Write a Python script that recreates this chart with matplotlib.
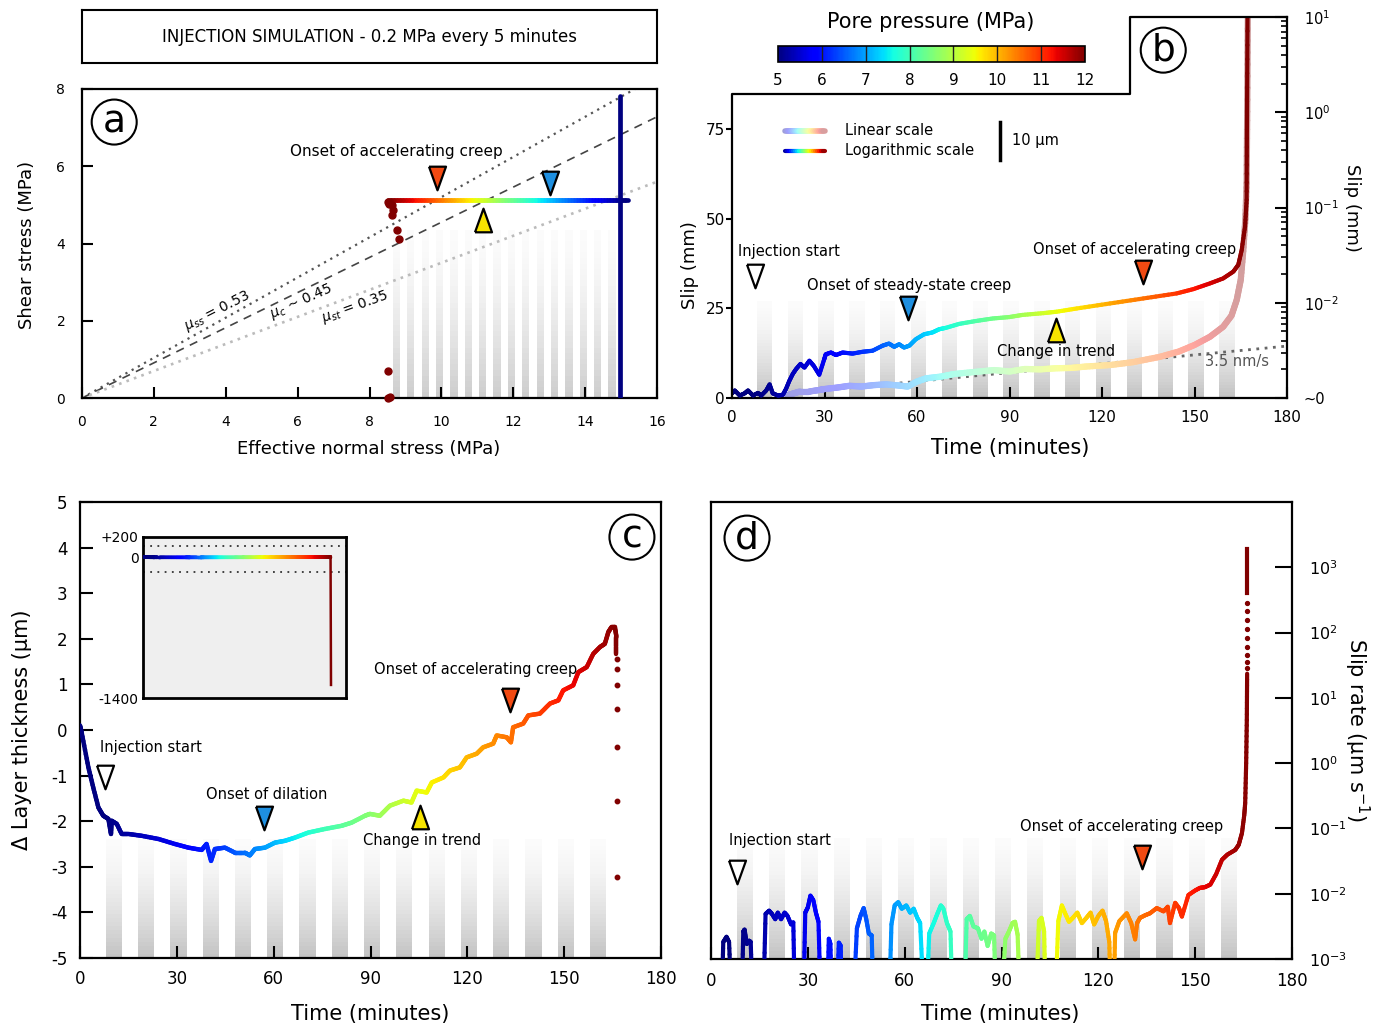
import numpy as np
import matplotlib
matplotlib.use('Agg')
import matplotlib.pyplot as plt
import matplotlib.colors as mcolors
from matplotlib.collections import LineCollection, PatchCollection
from matplotlib.patches import Rectangle
from matplotlib.lines import Line2D
from matplotlib.ticker import FixedLocator, FixedFormatter, NullLocator, LogLocator

plt.rcParams['font.family'] = ['DejaVu Sans']
plt.rcParams['mathtext.fontset'] = 'dejavusans'
plt.rcParams['axes.unicode_minus'] = False

W, H = 1384, 1029

# ---------------- data ----------------
# colour key: pore pressure (MPa) against time (min), read from the curve colours
pp_key_t = [0, 8, 30, 45, 60, 72, 90, 105, 133, 150, 167]
pp_key_v = [5, 5, 5.7, 6.3, 7.1, 7.8, 8.6, 9.4, 10.5, 11.2, 12]
# same key against effective normal stress (panel a)
pp_key_sn = [8.52, 15.0]
pp_key_sn_v = [12, 5]

# pressure steps (grey bands), start of each 5 min step
band_t = [8, 18, 28, 38, 48, 58, 68, 78, 88, 98, 108, 118, 128, 138, 148, 158]
band_sn = [8.65, 9.05, 9.45, 9.85, 10.25, 10.65, 11.05, 11.45, 11.85, 12.25,
           12.65, 13.05, 13.45, 13.85, 14.25, 14.65]

# panel a
a_mu_slope = [0.52, 0.455, 0.35]
a_line_sn = [15.2, 8.52]
a_line_tau = [5.13, 5.13]
a_load_sn = [14.97, 14.97]
a_load_tau = [0.0, 7.81]
a_dots_sn = [8.52, 8.55, 8.62, 8.65, 8.62, 8.77, 8.83, 8.52, 8.57, 8.52]
a_dots_tau = [5.08, 5.02, 5.00, 4.87, 4.74, 4.35, 4.11, 0.71, 0.03, 0.0]

# panel b: slip, log-scale curve (plotted in left-axis units)
b_log_t = [0, 0.9, 2.5, 4.1, 5.2, 6.8, 8.4, 9.5, 11.1, 12.2, 13.2, 14.9, 16.5, 17.5,
           18.6, 19.7, 20.8, 22.2, 23.5, 25.1, 26.5, 28.3, 29.9, 30.4, 32.1, 33.7,
           35.9, 39.1, 42.3, 45.6, 48.8, 50.9, 52.6, 54.2, 55.8, 57.5, 59.6, 62.3,
           65.0, 67.2, 69.4, 73.7, 79.1, 84.5, 89.9, 94.2, 101, 105.3, 111.8, 122.6,
           133.4, 144.2, 149.6, 155, 159.3, 162.6, 164.2, 165.3, 166.4, 166.9, 167.0, 167.2]
b_log_y = [1.3, 2.1, 0.7, 1.3, 2.1, 0.7, 1.4, 0.7, 2.1, 3.8, 1.3, 0.7, 0.9, 2.5,
           4.8, 6.7, 8.1, 9.5, 8.5, 10.4, 9.0, 6.5, 10.8, 12.2, 12.7, 12.0,
           12.7, 12.4, 12.9, 13.2, 14.6, 15.2, 14.3, 15.0, 14.1, 14.6, 16.4, 17.8,
           18.3, 19.2, 19.6, 20.7, 21.5, 22.2, 22.6, 23.2, 23.7, 24.1, 25.0, 26.4,
           27.8, 29.2, 30.4, 32.0, 33.4, 35.3, 37.2, 41.3, 47.9, 55.3, 75, 106.4]
# panel b: slip, linear-scale curve
b_lin_t = [18, 20, 22, 25, 28, 30, 34, 38, 42, 46, 50, 54, 57, 60, 63, 68, 72, 79, 85, 90,
           95, 100, 105, 110, 115, 122.6, 130, 138.8, 145, 150, 155, 159.3, 162, 163.7,
           165, 165.8, 166.5, 166.9, 167.1, 167.3]
b_lin_y = [0.8, 1.3, 1.8, 1.8, 2.2, 2.5, 2.9, 3.4, 3.2, 3.6, 3.8, 3.5, 3.2, 4.6, 5.5, 6.0,
           6.7, 7.3, 7.8, 7.4, 8.1, 8.0, 8.3, 8.4, 8.8, 9.2, 10.0, 11.5, 13.0, 14.8, 17.1,
           19.9, 23.0, 27.4, 33.0, 41, 50, 60, 80, 106.4]
b_rate_t = [19.4, 180]
b_rate_y = [1.3, 14.5]

# panel c: change in layer thickness (um)
c_t = [0, 0.5, 2.6, 4.1, 5.7, 7.2, 8.8, 9.6, 9.8, 11.4, 12.9, 15.0, 19.1, 24.3, 29.4,
       33.6, 37.7, 39.2, 40.6, 41.8, 44.9, 48.0, 51.1, 52.6, 54.2, 57.3, 60.4, 63.5,
       66.6, 70.7, 75.9, 81.1, 84.2, 88.3, 89.8, 92.9, 96.0, 100.2, 102.7, 104.3, 107.4,
       109.0, 112.6, 114.6, 117.7, 119.8, 122.9, 124.9, 128.0, 129.1, 132.2, 133.5,
       134.2, 137.3, 138.9, 142.5, 145.6, 148.2, 149.7, 152.8, 154.4, 157.0, 159.0,
       161.1, 162.6, 163.7, 164.7, 165.7, 166.2, 166.2]
c_v = [0.1, -0.05, -0.82, -1.26, -1.70, -1.88, -1.95, -2.28, -1.99, -2.06, -2.28, -2.28,
       -2.32, -2.39, -2.50, -2.58, -2.63, -2.50, -2.87, -2.61, -2.58, -2.69, -2.69, -2.75,
       -2.61, -2.58, -2.47, -2.43, -2.36, -2.25, -2.17, -2.10, -2.03, -1.88, -1.84, -1.88,
       -1.66, -1.55, -1.59, -1.33, -1.37, -1.15, -1.04, -0.89, -0.82, -0.60, -0.52, -0.38,
       -0.30, -0.12, -0.16, -0.27, 0.06, 0.14, 0.32, 0.36, 0.58, 0.65, 0.87, 0.98, 1.27,
       1.38, 1.67, 1.82, 1.89, 2.15, 2.26, 2.26, 2.04, 1.67]
c_drop_v = [1.56, 1.33, 0.98, 0.45, -0.38, -1.55, -3.22]
c_drop_t = 166.3
inset_drop_t = [166.3, 166.7]
inset_drop_v = [0, -1270]
inset_ref = [110, -150]

# panel d: slip rate, log10(um/s); -3.5 = below the axis floor
d_t = [3.4, 3.8, 4.8, 5.6, 6.2,
       9.6, 10.0, 10.4, 11.1, 11.8, 12.3, 12.8,
       16.3, 16.9, 18.0, 18.9, 19.9, 20.7, 21.7, 22.8, 23.7, 24.8, 25.5, 25.9,
       28.7, 29.2, 30.0, 30.8, 31.7, 32.5, 33.3, 33.9,
       36.1, 36.5, 37.0, 37.3,
       39.1, 39.6, 40.2, 40.4,
       44.3, 45.2, 46.3, 47.3, 48.1, 48.9, 49.8, 50.2,
       55.3, 55.9, 56.9, 58.0, 59.1, 60.5, 61.7, 62.8, 63.9, 64.8, 65.8,
       66.9, 67.6, 69.0, 70.1, 71.2, 72.0, 73.1, 74.2, 74.7,
       78.6, 79.2, 80.2, 81.3, 82.7, 83.8, 84.7, 85.7, 86.8, 87.7, 88.2,
       90.2, 91.2, 92.3, 93.4, 94.2, 95.0, 95.6,
       100.8, 101.6, 102.4, 103.2, 103.6,
       106.8, 107.6, 108.7, 109.8, 110.9, 112.1, 113.5, 114.9, 116.3, 117.6, 118.7,
       120.0, 121.3, 122.4, 123.4, 123.8,
       124.8, 125.2, 126.5, 128.8, 130.2, 131.4, 132.0, 132.9, 134.5, 136.0, 138.1,
       140.2, 141.5, 142.2, 143.8, 145.0, 145.9, 147.9, 150.0, 151.5, 153.0, 154.7,
       156.5, 158.3, 160.0, 162.4, 163.5, 164.5, 165.2, 165.5, 165.8, 166.0, 166.1]
d_log = [-3.5, -2.74, -2.66, -2.74, -3.5,
         -3.5, -2.58, -2.55, -2.77, -2.72, -2.74, -3.5,
         -3.5, -2.31, -2.26, -2.31, -2.39, -2.29, -2.39, -2.29, -2.34, -2.47, -2.44, -3.5,
         -3.5, -2.29, -2.21, -2.03, -2.10, -2.29, -2.43, -3.5,
         -3.5, -2.69, -2.77, -3.5,
         -3.5, -2.75, -2.80, -3.5,
         -3.5, -2.53, -2.34, -2.22, -2.39, -2.61, -2.64, -3.5,
         -3.5, -2.47, -2.18, -2.13, -2.23, -2.18, -2.29, -2.23, -2.37, -2.45, -3.5,
         -3.5, -2.61, -2.45, -2.31, -2.18, -2.23, -2.45, -2.58, -3.5,
         -3.5, -2.39, -2.34, -2.50, -2.53, -2.69, -2.58, -2.80, -2.61, -2.64, -3.5,
         -3.5, -2.69, -2.58, -2.45, -2.43, -2.63, -3.5,
         -3.5, -2.42, -2.37, -2.58, -3.5,
         -3.5, -2.42, -2.18, -2.31, -2.43, -2.37, -2.29, -2.45, -2.37, -2.29, -2.47,
         -2.34, -2.26, -2.42, -2.74, -3.5,
         -3.5, -2.60, -2.42, -2.30, -2.45, -2.70, -2.45, -2.37, -2.33, -2.30, -2.22,
         -2.27, -2.20, -2.45, -2.14, -2.22, -2.35, -2.02, -1.95, -1.91, -1.90, -1.86,
         -1.70, -1.48, -1.40, -1.33, -1.25, -1.07, -0.80, -0.61, 0.0, 0.66, 1.37]
d_dot_t = 166.15
d_dot_log = [1.45, 1.55, 1.65, 1.78, 1.92, 2.06, 2.2, 2.33, 2.45]
d_top_t = [166.2, 166.2]
d_top_log = [2.6, 3.28]

# ---------------- helpers ----------------
cmap = plt.get_cmap('jet')
norm = mcolors.Normalize(5, 12)
DARKRED = cmap(1.0)
ORANGE = '#f24a12'
BLUE = '#1e8fe0'
YELLOW = '#f7e400'
ANN = 10.5


def px_axes(fig, x0, y0, x1, y1, **kw):
    return fig.add_axes([x0 / W, 1 - y1 / H, (x1 - x0) / W, (y1 - y0) / H], **kw)


def ftext(fig, x, y, s, **kw):
    kw.setdefault('ha', 'center')
    kw.setdefault('va', 'center')
    fig.text(x / W, 1 - y / H, s, **kw)


def colored_line(ax, x, y, kx, kv, lw, pale=0.0, sub=8, logy=False, z=3):
    segs, cols = [], []
    for i in range(len(x) - 1):
        xs = np.linspace(x[i], x[i + 1], sub + 1)
        if logy:
            ys = np.logspace(np.log10(y[i]), np.log10(y[i + 1]), sub + 1)
        else:
            ys = np.linspace(y[i], y[i + 1], sub + 1)
        for j in range(sub):
            segs.append([(xs[j], ys[j]), (xs[j + 1], ys[j + 1])])
            c = np.array(cmap(norm(np.interp(0.5 * (xs[j] + xs[j + 1]), kx, kv)))[:3])
            cols.append(c * (1 - pale) + pale)
    lc = LineCollection(segs, colors=cols, linewidths=lw, zorder=z, capstyle='round')
    ax.add_collection(lc)


def bands(ax, starts, width, top, lo=0.76, hi=0.985, n=30):
    rects, cols = [], []
    for s in starts:
        for k in range(n):
            f0 = top * k / n
            g = hi - (hi - lo) * (1 - (k + 0.5) / n) ** 1.6
            rects.append(Rectangle((s, f0), width, top / n))
            cols.append((g, g, g))
    pc = PatchCollection(rects, facecolors=cols, edgecolors='none', zorder=0,
                         transform=ax.get_xaxis_transform())
    ax.add_collection(pc)


def tri(ax, x, y, kind, color, size=17):
    if kind == 'down':
        verts = [(-0.72, 1), (0.72, 1), (0, -1), (-0.72, 1)]
    else:
        verts = [(-0.72, -1), (0.72, -1), (0, 1), (-0.72, -1)]
    ax.plot([x], [y], marker=verts, ms=size, mfc=color, mec='black', mew=1.6,
            zorder=6, clip_on=False)


def letter(ax, x, y, s):
    ax.text(x, y, s, transform=ax.transAxes, fontsize=27, ha='center', va='center',
            zorder=8, bbox=dict(boxstyle='circle,pad=0.12', fc='white', ec='black', lw=1.5))


def style_spines(ax, lw=1.6):
    for sp in ax.spines.values():
        sp.set_linewidth(lw)


fig = plt.figure(figsize=(W / 100, H / 100), dpi=100)

# ---------------- title box ----------------
tb = px_axes(fig, 82, 10, 657, 63)
tb.set_xticks([])
tb.set_yticks([])
style_spines(tb, 1.5)
tb.text(0.5, 0.5, 'INJECTION SIMULATION - 0.2 MPa every 5 minutes', ha='center',
        va='center', fontsize=12, transform=tb.transAxes)

# ---------------- panel a ----------------
ax = px_axes(fig, 82, 89, 657, 398)
ax.set_xlim(0, 16)
ax.set_ylim(0, 8)
bands(ax, band_sn, 0.2, 4.35 / 8, lo=0.80, hi=0.985)
styles = [dict(color='#555555', lw=1.6, ls=(0, (1, 2.2))),
          dict(color='#444444', lw=1.2, ls=(0, (5, 4))),
          dict(color='#bbbbbb', lw=1.9, ls=(0, (1, 2)))]
for m, st in zip(a_mu_slope, styles):
    ax.plot([0, 16], [0, 16 * m], zorder=1, **st)
ax.text(3.75, 2.25, r'$\mu_{ss}$ = 0.53', rotation=27, fontsize=10, ha='center', va='center')
ax.text(6.1, 2.5, r'$\mu_{c}$ ~ 0.45', rotation=24, fontsize=10, ha='center', va='center')
ax.text(7.6, 2.35, r'$\mu_{st}$ = 0.35', rotation=20, fontsize=10, ha='center', va='center')
ax.plot(a_load_sn, a_load_tau, color=cmap(0.0), lw=3.4, zorder=3, solid_capstyle='round')
colored_line(ax, a_line_sn, a_line_tau, pp_key_sn, pp_key_sn_v, lw=3.4, sub=80, z=4)
ax.plot(a_dots_sn, a_dots_tau, 'o', color=DARKRED, ms=5, zorder=4, clip_on=False)
tri(ax, 9.87, 5.69, 'down', ORANGE)
tri(ax, 13.02, 5.56, 'down', BLUE)
tri(ax, 11.15, 4.61, 'up', YELLOW)
ax.text(8.76, 6.37, 'Onset of accelerating creep', fontsize=11, ha='center', va='center')
ax.set_xticks(range(0, 17, 2))
ax.set_yticks(range(0, 9, 2))
ax.tick_params(direction='in', length=8, width=1.5, labelsize=10, pad=12)
style_spines(ax)
letter(ax, 0.056, 0.893, 'a')
ftext(fig, 27, 245, 'Shear stress (MPa)', rotation=90, fontsize=13)
ftext(fig, 369, 449, 'Effective normal stress (MPa)', fontsize=13)

# ---------------- panel b ----------------
ax = px_axes(fig, 732, 17, 1287, 398)
ax.set_xlim(0, 180)
ax.set_ylim(0, 106.4)
for s in ['top', 'left', 'right']:
    ax.spines[s].set_visible(False)
ax.spines['bottom'].set_linewidth(1.6)
ax.add_line(Line2D([0, 0, 0.717, 0.717, 1], [0, 0.798, 0.798, 1, 1], color='black',
                   lw=1.6, transform=ax.transAxes, clip_on=False, zorder=7))
bands(ax, band_t, 5, 27 / 106.4)
ax.plot(b_rate_t, b_rate_y, color='#666666', lw=2, ls=(0, (1, 2)), zorder=2)
colored_line(ax, b_lin_t, b_lin_y, pp_key_t, pp_key_v, lw=4.5, pale=0.62, z=2)
colored_line(ax, b_log_t, b_log_y, pp_key_t, pp_key_v, lw=3.0, z=3)
tri(ax, 7.5, 34.0, 'down', 'white')
tri(ax, 57.1, 25.1, 'down', BLUE)
tri(ax, 105.1, 19.0, 'up', YELLOW)
tri(ax, 133.3, 35.2, 'down', ORANGE)
ax.text(1.9, 40.8, 'Injection start', fontsize=ANN, ha='left', va='center')
ax.text(57.4, 31.3, 'Onset of steady-state creep', fontsize=ANN, ha='center', va='center')
ax.text(105.1, 13.1, 'Change in trend', fontsize=ANN, ha='center', va='center')
ax.text(130.4, 41.6, 'Onset of accelerating creep', fontsize=ANN, ha='center', va='center')
ax.text(163.8, 10.3, '3.5 nm/s', fontsize=ANN, color='#555555', ha='center', va='center')
# legend and scale bar
colored_line(ax, [17.2, 30.1], [74.6, 74.6], [17.2, 30.1], [5, 12], lw=4, pale=0.62, sub=20)
colored_line(ax, [17.2, 30.1], [69.0, 69.0], [17.2, 30.1], [5, 12], lw=3, sub=20)
ax.text(36.6, 74.6, 'Linear scale', fontsize=ANN, va='center')
ax.text(36.6, 69.0, 'Logarithmic scale', fontsize=ANN, va='center')
ax.plot([86.9, 86.9], [66.5, 77.1], color='black', lw=2.5)
ax.text(90.8, 71.8, '10 µm', fontsize=ANN, va='center')
ax.set_xticks(range(0, 181, 30))
ax.set_yticks([0, 25, 50, 75])
ax.tick_params(axis='x', direction='in', length=8, width=1.5, labelsize=11, pad=9)
ax.tick_params(axis='y', direction='out', length=4, width=1.5, labelsize=11, pad=1)
letter(ax, 0.777, 0.913, 'b')
axr = ax.twinx()
axr.set_yscale('log')
axr.set_ylim(1e-3, 1e1)
for s in ['top', 'left', 'bottom']:
    axr.spines[s].set_visible(False)
axr.spines['right'].set_linewidth(1.6)
axr.yaxis.set_major_locator(FixedLocator([1e-3, 1e-2, 1e-1, 1, 10]))
axr.yaxis.set_major_formatter(FixedFormatter(['~0', r'$10^{-2}$', r'$10^{-1}$',
                                              r'$10^{0}$', r'$10^{1}$']))
axr.yaxis.set_minor_locator(LogLocator(subs=np.arange(2, 10)))
axr.tick_params(which='major', direction='in', length=9, width=1.5, labelsize=10.5, pad=12)
axr.tick_params(which='minor', direction='in', length=4, width=1.2)
ftext(fig, 1010, 448, 'Time (minutes)', fontsize=15)
ftext(fig, 690, 265, 'Slip (mm)', rotation=90, fontsize=13)
ftext(fig, 1352, 208, 'Slip (mm)', rotation=270, fontsize=13)

# colour bar
cax = px_axes(fig, 778, 46, 1085, 62)
cb = fig.colorbar(plt.cm.ScalarMappable(norm=norm, cmap=cmap), cax=cax,
                  orientation='horizontal', ticks=range(5, 13))
cb.outline.set_linewidth(1.2)
for v in range(6, 12):
    cax.axvline(v, color='#222222', lw=1)
cax.tick_params(length=0, labelsize=11, pad=8)
ftext(fig, 931, 22, 'Pore pressure (MPa)', fontsize=15)

# ---------------- panel c ----------------
ax = px_axes(fig, 80, 502, 661, 958)
ax.set_xlim(0, 180)
ax.set_ylim(-5, 5)
bands(ax, band_t, 5, 0.262)
colored_line(ax, c_t, c_v, pp_key_t, pp_key_v, lw=3.2)
ax.plot([c_drop_t] * len(c_drop_v), c_drop_v, 'o', color=DARKRED, ms=3.2, zorder=4)
tri(ax, 7.9, -1.02, 'down', 'white')
tri(ax, 57.0, -1.92, 'down', BLUE)
tri(ax, 105.3, -1.9, 'up', YELLOW)
tri(ax, 133.3, 0.66, 'down', ORANGE)
ax.text(6.1, -0.38, 'Injection start', fontsize=ANN, ha='left', va='center')
ax.text(57.9, -1.42, 'Onset of dilation', fontsize=ANN, ha='center', va='center')
ax.text(106, -2.42, 'Change in trend', fontsize=ANN, ha='center', va='center')
ax.text(122.4, 1.33, 'Onset of accelerating creep', fontsize=ANN, ha='center', va='center')
ax.set_xticks(range(0, 181, 30))
ax.set_yticks(range(-5, 6))
ax.tick_params(direction='in', length=9, width=1.5, labelsize=12, pad=9)
style_spines(ax)
letter(ax, 0.95, 0.923, 'c')
ftext(fig, 22, 730, 'Δ Layer thickness (µm)', rotation=90, fontsize=15)
ftext(fig, 370, 1014, 'Time (minutes)', fontsize=15)

# inset
ins = px_axes(fig, 143, 537, 346, 698)
ins.set_facecolor('#efefef')
ins.set_xlim(0, 180)
ins.set_ylim(-1400, 200)
for v in inset_ref:
    ins.axhline(v, color='#333333', lw=1.3, ls=(0, (1, 3)))
colored_line(ins, c_t, c_v, pp_key_t, pp_key_v, lw=2.5)
ins.plot(inset_drop_t, inset_drop_v, color=DARKRED, lw=1.8)
ins.set_xticks([])
ins.set_yticks([200, 0, -1400])
ins.set_yticklabels(['+200', '0', '-1400'])
ins.tick_params(length=0, labelsize=10, pad=3)
style_spines(ins, 2)

# ---------------- panel d ----------------
ax = px_axes(fig, 711, 502, 1292, 959)
ax.set_xlim(0, 180)
ax.set_yscale('log')
ax.set_ylim(1e-3, 1e4)
bands(ax, band_t, 5, 0.264)
d_rate = [10 ** v for v in d_log]
colored_line(ax, d_t, d_rate, pp_key_t, pp_key_v, lw=3.0, logy=True)
ax.plot([d_dot_t] * len(d_dot_log), [10 ** v for v in d_dot_log], 'o', color=DARKRED,
        ms=2.8, zorder=4)
ax.plot(d_top_t, [10 ** v for v in d_top_log], color=DARKRED, lw=3.0, zorder=4)
tri(ax, 7.95, 10 ** -1.67, 'down', 'white')
tri(ax, 133.4, 10 ** -1.43, 'down', ORANGE)
ax.text(5.6, 10 ** -1.19, 'Injection start', fontsize=ANN, ha='left', va='center')
ax.text(127.2, 10 ** -0.97, 'Onset of accelerating creep', fontsize=ANN, ha='center',
        va='center')
ax.yaxis.tick_right()
ax.yaxis.set_major_locator(FixedLocator([1e-3, 1e-2, 1e-1, 1, 10, 100, 1000]))
ax.yaxis.set_major_formatter(FixedFormatter([r'$10^{-3}$', r'$10^{-2}$', r'$10^{-1}$',
                                             r'$10^{0}$', r'$10^{1}$', r'$10^{2}$',
                                             r'$10^{3}$']))
ax.yaxis.set_minor_locator(NullLocator())
ax.set_xticks(range(0, 181, 30))
ax.tick_params(axis='x', direction='in', length=9, width=1.5, labelsize=12, pad=9)
ax.tick_params(axis='y', direction='in', length=12, width=1.5, labelsize=11.5, pad=12)
style_spines(ax)
letter(ax, 0.062, 0.921, 'd')
ftext(fig, 1000, 1014, 'Time (minutes)', fontsize=15)
ftext(fig, 1357, 730, r'Slip rate (µm s$^{-1}$)', rotation=270, fontsize=15)

fig.savefig('out.png', dpi=100)
